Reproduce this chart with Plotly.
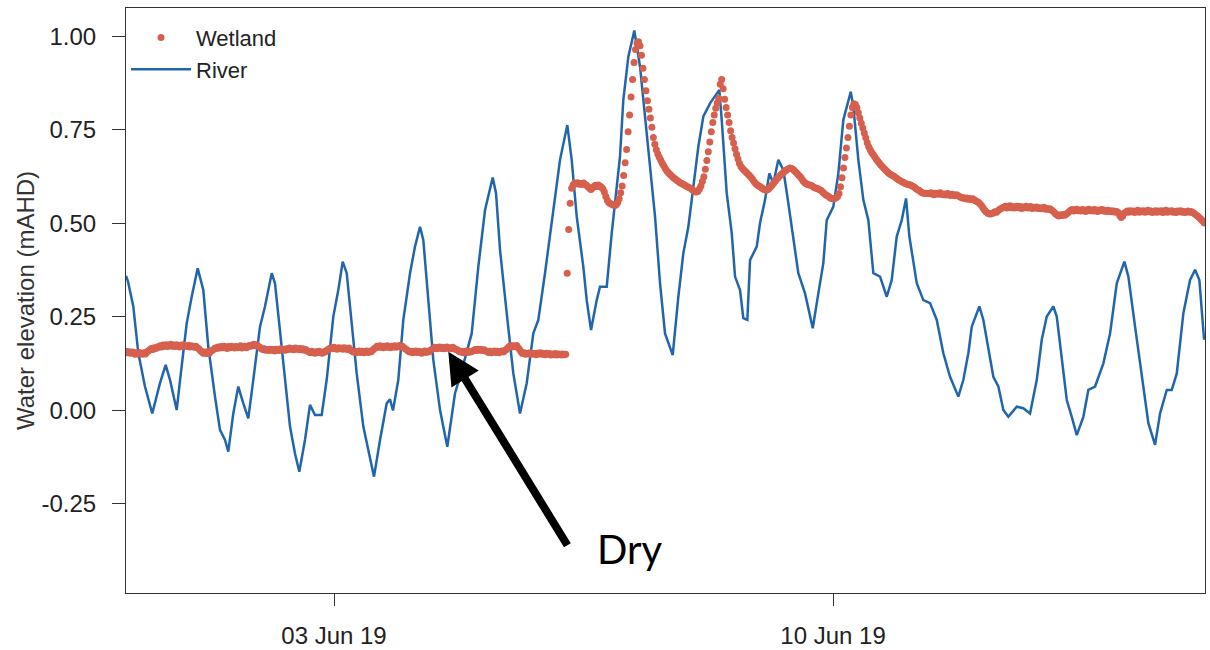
import pandas as pd
import plotly.graph_objects as go

# ---------------- data ----------------
BASE = pd.Timestamp("2019-05-31 00:00")

# River: hours since 31 May 2019 00:00 and water elevation (m AHD)
river_hours = [
    2.0, 2.65, 4.44, 6.12, 8.37, 10.83, 13.42, 15.34, 16.79, 19.05,
    20.16, 22.41, 24.10, 26.12, 28.00, 29.68, 31.94, 33.62, 35.31, 36.42,
    38.10, 39.78, 41.47, 43.15, 44.83, 47.09, 48.77, 51.03, 52.14, 53.82,
    55.51, 57.19, 58.87, 60.32, 62.24, 63.92, 65.61, 67.86, 69.54, 71.77,
    73.45, 74.93, 76.28, 77.96, 79.64, 81.87, 84.12, 85.47, 87.49, 89.74,
    90.85, 91.86, 93.65, 95.33, 97.59, 99.27, 100.95, 102.06, 103.75, 105.43,
    107.69, 110.14, 112.74, 114.42, 118.36, 120.58, 122.84, 125.43, 126.54, 127.89,
    130.14, 132.36, 134.62, 136.87, 139.10, 140.78, 143.03, 145.83, 148.08, 150.54,
    152.02, 153.71, 155.93, 157.07, 158.52, 160.44, 161.55, 163.81, 165.49, 168.28,
    169.39, 171.08, 173.10, 175.02, 177.27, 180.07, 181.75, 183.43, 186.02, 187.91,
    189.59, 191.28, 192.96, 194.64, 196.33, 198.58, 201.71, 202.52, 204.20, 205.89,
    207.00, 208.68, 209.79, 211.14, 212.05, 214.30, 215.41, 217.10, 218.55, 219.89,
    221.58, 223.26, 224.61, 226.63, 228.31, 230.56, 231.67, 233.16, 235.04, 236.72,
    237.87, 240.09, 241.77, 243.46, 245.95, 246.82, 248.51, 250.19, 251.87, 253.56,
    255.81, 258.07, 259.75, 261.43, 263.12, 264.57, 265.68, 268.17, 270.39, 272.65,
    274.90, 277.12, 279.38, 282.17, 283.86, 285.54, 286.68, 289.24, 290.59, 292.27,
    293.95, 295.64, 297.32, 299.00, 301.83, 304.05, 306.31, 308.57, 310.25, 311.93,
    314.15, 315.30, 316.98, 318.67, 320.35, 322.03, 324.25, 325.94, 328.19, 330.99,
    333.24, 335.50, 338.06, 339.40, 341.66, 343.91, 346.14, 348.39, 350.07, 352.33,
    354.01, 355.70, 357.92, 360.17, 361.86, 363.30, 364.11, 364.89,
]
river_m = [
    0.360, 0.345, 0.278, 0.154, 0.064, -0.008, 0.073, 0.122, 0.082, 0.001,
    0.080, 0.233, 0.304, 0.380, 0.322, 0.171, 0.037, -0.052, -0.079, -0.110,
    -0.008, 0.064, 0.019, -0.021, 0.082, 0.224, 0.278, 0.367, 0.340, 0.206,
    0.073, -0.043, -0.115, -0.164, -0.079, 0.015, -0.012, -0.012, 0.082, 0.251,
    0.322, 0.398, 0.367, 0.233, 0.099, -0.043, -0.132, -0.177, -0.079, 0.019,
    0.030, 0.000, 0.082, 0.242, 0.367, 0.438, 0.491, 0.456, 0.295, 0.135,
    0.001, -0.097, 0.046, 0.090, 0.206, 0.384, 0.536, 0.623, 0.581, 0.429,
    0.260, 0.099, -0.008, 0.073, 0.206, 0.242, 0.367, 0.536, 0.670, 0.763,
    0.670, 0.518, 0.384, 0.295, 0.215, 0.295, 0.331, 0.331, 0.474, 0.679,
    0.830, 0.946, 1.016, 0.919, 0.741, 0.518, 0.340, 0.206, 0.148, 0.304,
    0.420, 0.491, 0.598, 0.705, 0.786, 0.821, 0.857, 0.777, 0.581, 0.474,
    0.358, 0.322, 0.247, 0.242, 0.402, 0.438, 0.501, 0.563, 0.634, 0.607,
    0.670, 0.643, 0.572, 0.465, 0.367, 0.313, 0.269, 0.220, 0.313, 0.394,
    0.509, 0.545, 0.634, 0.777, 0.852, 0.812, 0.670, 0.563, 0.509, 0.367,
    0.358, 0.304, 0.349, 0.465, 0.509, 0.567, 0.465, 0.340, 0.295, 0.287,
    0.242, 0.153, 0.090, 0.037, 0.082, 0.153, 0.224, 0.278, 0.242, 0.171,
    0.090, 0.064, 0.001, -0.017, 0.010, 0.006, -0.008, 0.082, 0.189, 0.251,
    0.278, 0.251, 0.135, 0.028, -0.017, -0.066, -0.017, 0.055, 0.064, 0.126,
    0.206, 0.340, 0.398, 0.358, 0.224, 0.090, -0.034, -0.092, -0.008, 0.055,
    0.055, 0.099, 0.260, 0.349, 0.376, 0.349, 0.278, 0.189,
]

# Wetland: half-hourly readings (mm AHD) starting 31 May 2019 02:00
wetland_start = "2019-05-31 02:00"
wetland_step = "30min"
wetland_mm = [
    158, 154, 157, 153, 156, 155, 150, 154, 151, 155, 152, 150, 154, 151, 156,
    159, 162, 166, 163, 168, 166, 170, 169,
    173, 170, 175, 172, 176, 171, 174, 177, 172, 175, 171, 176, 173, 170, 175, 172, 176, 173, 171, 174,
    170, 173, 171, 169, 172, 168,
    165, 160, 157, 153,
    156, 152, 157, 153, 158, 160,
    164, 167, 166,
    170, 167, 171, 168, 172, 169, 166, 171, 168, 172, 169, 167, 171, 168, 170, 173, 167, 170, 172, 168,
    171, 174, 172, 175,
    177, 173, 176, 172, 169,
    166, 163, 165, 161, 163,
    160, 164, 161, 163, 159, 164, 162, 160, 165, 162, 164, 161, 165,
    163, 167, 164, 166, 162, 167, 165, 163, 166, 162, 165, 161, 163, 159,
    157, 154, 158, 155, 153, 157, 154, 158, 155, 153, 157, 156, 160,
    163, 166, 168, 165, 169, 166, 164, 168, 165, 167, 164, 168, 166, 163, 167, 162,
    159, 156, 158, 154, 157, 159, 155, 158, 154, 157, 159, 155, 158, 157, 161,
    165, 168, 172, 169, 173, 170, 168, 172, 169, 173, 170, 168, 172, 170, 173, 169, 171, 174, 170, 172,
    168, 165, 162,
    159, 156, 158, 154, 157, 159, 155, 158, 156, 153, 157, 159, 155, 158, 157, 161,
    164, 166, 169, 165, 168, 170, 166, 169, 165, 168, 170, 166, 168, 165, 169, 166, 163, 162,
    159, 156, 158, 154, 157, 159, 155, 158, 156, 158, 160,
    163, 160, 164, 161, 163, 160, 162, 159, 158,
    155, 158, 154, 157, 159, 155, 158, 154, 157, 159, 156, 160, 163,
    167, 171, 174, 170, 173, 171, 174, 168, 162,
    156, 152, 154, 150, 153, 151, 154, 150, 153, 152, 149, 153, 151, 154, 150, 152, 149, 153, 150, 152,
    148, 151, 149, 152, 148, 151, 150, 148, 151, 149, 150,
    367, 484, 554, 594,
    603, 608, 606, 609, 605, 607, 604, 608, 605, 602,
    598, 594, 591, 595, 599, 602, 599, 603, 600, 597,
    593, 584, 572, 562, 556, 553, 551, 549, 548, 550, 556, 566,
    582, 600, 628, 662, 698, 745, 790, 838, 885, 930, 965, 982, 986,
    975, 950, 915, 885, 855, 828, 805, 782, 757, 730, 712, 697, 686, 677, 669, 661, 654, 647, 641, 636,
    632, 628, 624, 621, 618, 615, 612, 609, 607, 605, 603, 600, 598, 596, 594, 591, 588, 585,
    584, 586, 592, 600, 612, 625, 645, 668, 692, 718, 745, 770, 790, 808, 822, 835, 872, 885, 860, 832,
    810, 790, 770, 748, 730, 715, 700,
    685, 672, 660, 652, 647, 643, 639, 635, 631, 627, 622, 617, 611, 606, 603, 600, 598, 595, 592, 590,
    589, 591, 594, 598, 603, 608, 613, 618, 622, 627, 631, 634, 638, 641, 644, 646, 648, 647, 645, 641,
    637, 633, 628, 624, 619, 613, 609, 606, 604, 603, 602, 600, 597, 595, 594, 592, 590, 588, 584, 580,
    577, 575, 572, 569, 567, 566, 567, 569, 572, 580,
    598, 622, 648, 676, 702, 730, 760, 790, 810, 820, 818, 810, 796, 782, 768, 755, 742, 729, 716, 705,
    697, 690, 684, 678, 672, 667, 662, 657, 653, 648, 644, 640, 636, 633, 630, 628, 626, 623, 620, 617,
    615, 612, 610, 608, 606, 605, 604, 603, 601, 599, 596, 593, 590, 588, 585, 582, 581, 580, 581, 580,
    580, 582, 579, 577, 581, 580, 578, 582, 579, 577, 579, 576, 580, 578, 575, 578, 576, 574, 577, 575,
    572, 570, 568, 569, 566, 568, 565, 567, 564, 566, 563, 561, 558, 556, 552,
    547, 541, 536, 531, 528, 526, 525,
    527, 528, 531, 530, 534, 537, 539, 542,
    543, 546, 541, 544, 547, 542, 545, 541, 544, 546, 542, 545, 540, 544, 542, 546, 541, 543, 545, 540,
    543, 541, 544, 540, 542, 539, 541, 543, 538, 540, 537, 539, 536,
    533, 529, 525, 522, 520, 523, 521, 524, 522, 525, 528, 532,
    535, 537, 533, 536, 538, 534, 536, 533, 537, 535, 532, 536, 538, 534, 536, 533, 537, 535, 532, 536,
    534, 537, 533, 535, 532,
    535, 532, 534, 531, 533, 530, 532, 529,
    521, 516, 520, 527, 530,
    533, 530, 534, 531, 533, 529, 532, 535, 530, 533, 531, 534, 530, 532, 535, 531, 533, 529, 532, 534,
    530, 533, 531, 534, 529, 532, 535, 530, 533, 531, 534, 530, 532, 529, 533, 531, 534, 530, 532, 529,
    531, 533,
    530, 532, 529, 527, 524, 521, 518, 514, 510, 506, 501,
]

x_tick_dates = ["2019-06-03", "2019-06-10"]
x_tick_labels = ["03 Jun 19", "10 Jun 19"]
y_tick_vals = [-0.25, 0.0, 0.25, 0.5, 0.75, 1.0]
y_tick_labels = ["-0.25", "0.00", "0.25", "0.50", "0.75", "1.00"]
x_range = ["2019-05-31 01:59", "2019-06-15 05:12"]
y_range = [-0.488, 1.076]

# annotation ("Dry") target
dry_time = "2019-06-04 14:29"
dry_level = 0.157

# ---------------- figure ----------------
river_t = [BASE + pd.Timedelta(hours=h) for h in river_hours]
wet_t = pd.date_range(wetland_start, periods=len(wetland_mm), freq=wetland_step)
wet_m = [v / 1000.0 for v in wetland_mm]

RED = "#D6604D"
BLUE = "#2166AC"
FONT = "Liberation Sans, Arial, sans-serif"

fig = go.Figure()
fig.add_trace(go.Scatter(
    x=river_t, y=river_m, mode="lines", name="River",
    line=dict(color=BLUE, width=2.5), legendrank=2,
))
fig.add_trace(go.Scatter(
    x=wet_t, y=wet_m, mode="markers", name="Wetland",
    marker=dict(color=RED, size=7, line=dict(width=0)), legendrank=1,
))

fig.add_annotation(
    x=dry_time, y=dry_level, xref="x", yref="y",
    text="", showarrow=True, arrowhead=2, arrowsize=0.8, arrowwidth=8,
    arrowcolor="black", ax=120, ay=195, axref="pixel", ayref="pixel", standoff=0,
)
fig.add_annotation(
    x=0.467, y=0.075, xref="paper", yref="paper", text="Dry", showarrow=False,
    xanchor="center", yanchor="middle",
    font=dict(family="Lato, Noto Sans, sans-serif", size=40, color="black"),
)

fig.update_layout(
    width=1210, height=650,
    margin=dict(l=126, r=5, t=8, b=57, autoexpand=False),
    paper_bgcolor="white", plot_bgcolor="white",
    font=dict(family=FONT, size=24, color="#222"),
    showlegend=True,
    legend=dict(
        x=0.0, y=0.985, xanchor="left", yanchor="top",
        bgcolor="rgba(0,0,0,0)", font=dict(size=22, color="#222"),
        tracegroupgap=0, itemwidth=60,
    ),
    xaxis=dict(
        type="date", range=x_range, automargin=False,
        tickvals=x_tick_dates, ticktext=x_tick_labels,
        ticks="outside", ticklen=12, tickwidth=1, tickcolor="#333",
        showgrid=False, zeroline=False,
        showline=True, mirror=True, linecolor="#333", linewidth=1,
        ticklabelstandoff=9, tickfont=dict(size=24, color="#222"),
    ),
    yaxis=dict(
        range=y_range, automargin=False,
        tickvals=y_tick_vals, ticktext=y_tick_labels,
        ticks="outside", ticklen=13, tickwidth=1, tickcolor="#333",
        showgrid=False, zeroline=False,
        showline=True, mirror=True, linecolor="#333", linewidth=1,
        ticklabelstandoff=11, tickfont=dict(size=24, color="#222"),
        title=dict(text="Water elevation (mAHD)", standoff=0,
                   font=dict(size=24, color="#333")),
    ),
)

fig.write_html("out.html")
